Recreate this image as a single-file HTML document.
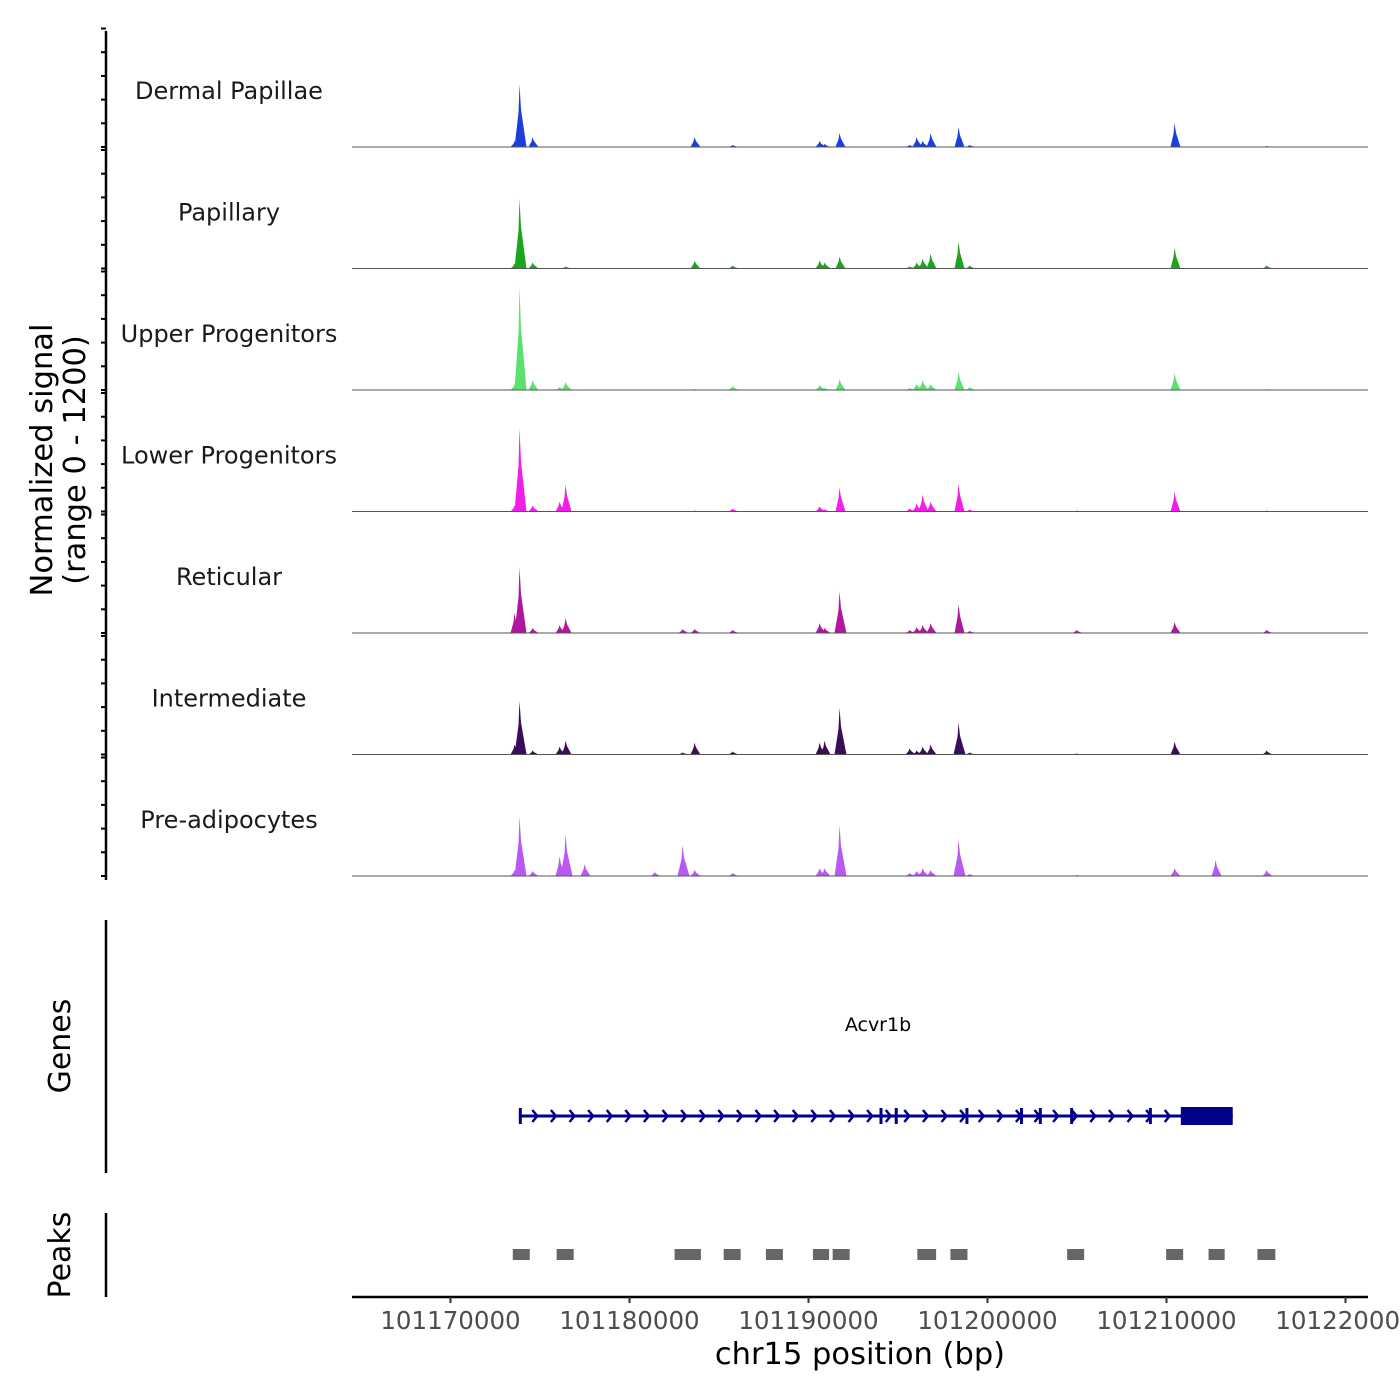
<!DOCTYPE html>
<html><head><meta charset="utf-8"><style>
body{margin:0;background:#fff}
svg{display:block;font-family:"DejaVu Sans","Liberation Sans",sans-serif}
</style></head><body>
<svg id="chart" width="1400" height="1400" viewBox="0 0 1400 1400" xmlns="http://www.w3.org/2000/svg">
<text transform="translate(52,460) rotate(-90)" text-anchor="middle" font-size="30.5" fill="#000">Normalized signal</text>
<text transform="translate(85,460) rotate(-90)" text-anchor="middle" font-size="30.5" fill="#000">(range 0 - 1200)</text>
<text transform="translate(70,1046) rotate(-90)" text-anchor="middle" font-size="30" fill="#000">Genes</text>
<text transform="translate(70,1255) rotate(-90)" text-anchor="middle" font-size="30" fill="#000">Peaks</text>
<line x1="106" y1="31" x2="106" y2="880" stroke="#000" stroke-width="2.5"/>
<line x1="106" y1="920" x2="106" y2="1173" stroke="#000" stroke-width="2.5"/>
<line x1="106" y1="1213" x2="106" y2="1297" stroke="#000" stroke-width="2.5"/>
<line x1="352" y1="1297" x2="1368" y2="1297" stroke="#000" stroke-width="2.5"/>
<text x="860" y="1364" text-anchor="middle" font-size="30.5" fill="#000">chr15 position (bp)</text>
<text x="878" y="1031" text-anchor="middle" font-size="19" fill="#000">Acvr1b</text>
<g id="tracks"></g>
<g id="gene"></g>
<g id="peaks"></g>
<g id="xticks"></g>
</svg>
<script>
const trackNames = ["Dermal Papillae","Papillary","Upper Progenitors","Lower Progenitors","Reticular","Intermediate","Pre-adipocytes"];
const trackColors = ["#1a3fdc","#1aa51a","#5ce070","#f01ee8","#b0169e","#3b0c5a","#b85af2"];
const peakPos = [101173575,101173855,101174581,101176089,101176425,101177486,101181397,101182961,101183631,101185754,101190615,101190894,101191732,101195642,101196034,101196369,101196816,101198380,101198994,101204972,101210447,101212737,101215586];
const sigDermal =   [ 60,630,100,  0,  0,  0,  0,  0,100, 20, 60, 30,140, 20,100, 60,140,200, 20,  0,240,  0, 10];
const sigPapillary =[ 50,700, 60,  0, 20,  0,  0,  0, 80, 30, 80, 60,120, 20, 60,100,150,270, 30,  0,210,  0, 30];
const sigUpper =    [ 60,1040,100, 30, 80,  0,  0,  0, 10, 40, 50, 20,110, 20, 60,100, 60,180, 30,  0,170,  0, 10];
const sigLower =    [ 60,840, 60,100,270,  0,  0,  0, 10, 30, 50, 20,240, 30, 80,170,100,280, 20, 10,200,  0, 10];
const sigReticular =[200,660, 50, 80,150,  0,  0, 40, 40, 30,100, 50,420, 30, 60, 80,100,290, 20, 30,110,  0, 30];
const sigInterm =   [100,540, 40, 80,140,  0,  0, 20,120, 30,120,140,470, 60, 40, 80,100,320, 20, 10,130,  0, 40];
const sigPreadipo = [ 60,600, 50,200,420,120, 40,310, 60, 30, 80, 80,510, 30, 50, 80, 60,370, 20, 10, 80,160, 60];
const trackSignals = [sigDermal,sigPapillary,sigUpper,sigLower,sigReticular,sigInterm,sigPreadipo];
const xTicks = [101170000,101180000,101190000,101200000,101210000,101220000];
const xTickLabels = ["101170000","101180000","101190000","101200000","101210000","101220000"];
const geneStart = 101173900, geneEnd = 101213700, cdsStart = 101210800;
const exonPos = [101173900,101194050,101194900,101198850,101201900,101202950,101204700,101209100];
const peakStarts = [101173480,101175930,101182520,101185260,101187620,101190250,101191350,101196080,101197930,101204450,101209980,101212350,101215080];
const peakEnds =   [101174430,101176880,101183990,101186210,101188570,101191150,101192300,101197130,101198880,101205400,101210930,101213250,101216080];

const NS="http://www.w3.org/2000/svg";
function X(bp){return 450.5+(bp-101170000)*179/10000;}
const trackTop=26, trackH=121.5, yMax=1200, plotH=119;
function mk(tag,attrs,parent){const e=document.createElementNS(NS,tag);for(const k in attrs)e.setAttribute(k,attrs[k]);parent.appendChild(e);return e;}
const tg=document.getElementById('tracks');
trackNames.forEach((name,i)=>{
  const base=trackTop+trackH*(i+1)-0.5;
  const Y=v=>base-v/yMax*plotH;
  const g=mk('g',{},tg);
  
  
  for(let k=0;k<=5;k++){
    const t=mk('line',{x1:101,x2:106,y1:base-k*23.7,y2:base-k*23.7,stroke:'#000','stroke-width':2},g);
    
    
  }
  const lab=mk('text',{x:229,y:base-48,'text-anchor':'middle','font-size':24,fill:'#1a1a1a'},g);
  lab.textContent=name;
  
  
  const sig=trackSignals[i];
  sig.forEach((v,j)=>{
    if(v<=0)return;
    const x=X(peakPos[j]);
    const w=v>300?5:4;
    const p=mk('polygon',{points:`${x-w},${base} ${x-1},${Y(v*0.55)} ${x},${Y(v)} ${x+1.5},${Y(v*0.6)} ${x+w+2},${base}`,fill:trackColors[i]},g);
    
    
  });
  const bl=mk('line',{x1:352,x2:1368,y1:base,y2:base,stroke:'#555','stroke-width':1},g);
  
  
});
const gg=document.getElementById('gene');


const gy=1116;
mk('line',{x1:X(geneStart),x2:X(geneEnd),y1:gy,y2:gy,stroke:'#00008b','stroke-width':3},gg);
for(let x=X(geneStart)+16;x<X(cdsStart)-5;x+=18.6){
  const a=mk('polyline',{points:`${x-4},${gy-6} ${x+1},${gy} ${x-4},${gy+6}`,fill:'none',stroke:'#00008b','stroke-width':2.5},gg);
  
  
}
exonPos.forEach(b=>{
  const e=mk('rect',{x:X(b)-1.5,y:gy-8,width:3,height:16,fill:'#00008b'},gg);
  
  
});
const cds=mk('rect',{x:X(cdsStart),y:gy-9,width:X(geneEnd)-X(cdsStart),height:18,fill:'#00008b'},gg);


const pg=document.getElementById('peaks');
peakStarts.forEach((s,j)=>{
  const r=mk('rect',{x:X(s),y:1249,width:X(peakEnds[j])-X(s),height:11,fill:'#666'},pg);
  
  
});
const xg=document.getElementById('xticks');
xTicks.forEach((b,j)=>{
  const l=mk('line',{x1:X(b),x2:X(b),y1:1297,y2:1303,stroke:'#333','stroke-width':2},xg);
  
  
  const t=mk('text',{x:X(b),y:1329,'text-anchor':'middle','font-size':24.5,fill:'#4d4d4d'},xg);
  t.textContent=xTickLabels[j];
  
  
});
</script>
</body></html>
